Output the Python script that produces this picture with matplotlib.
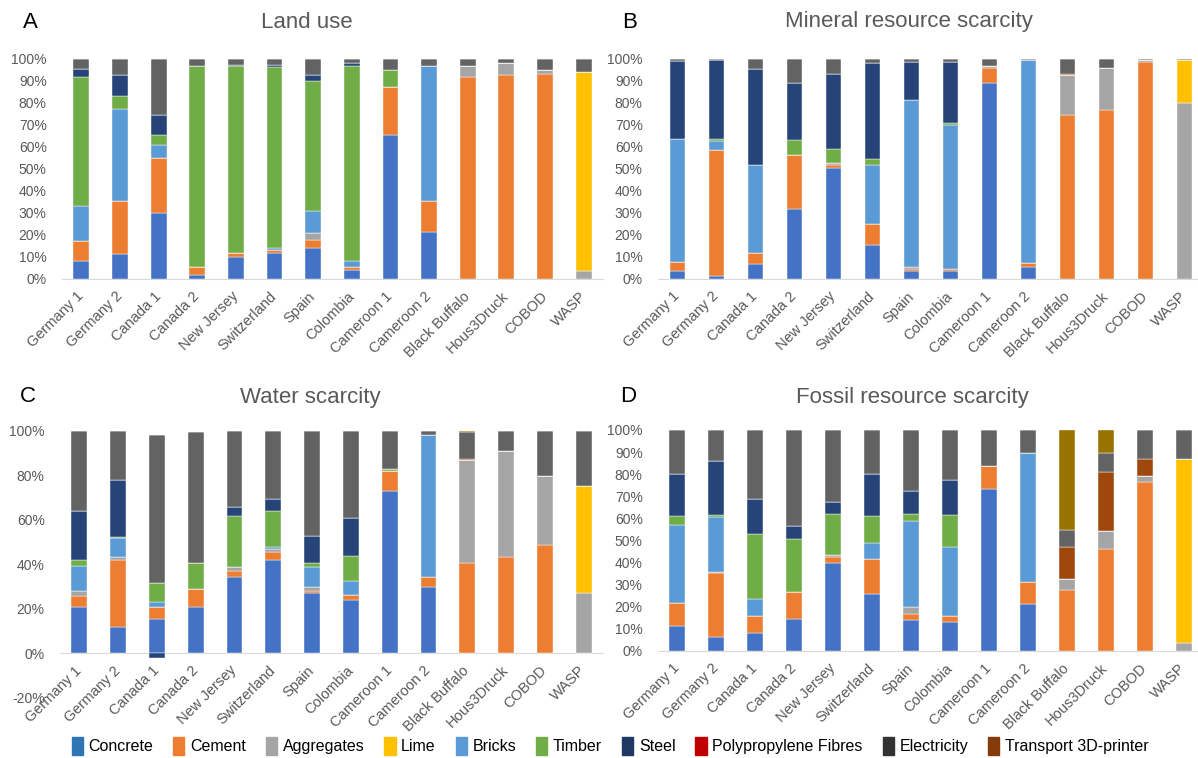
import numpy as np
import matplotlib
matplotlib.use("Agg")
import matplotlib.pyplot as plt
from matplotlib.patches import Patch

plt.rcParams['font.family'] = ['Liberation Sans', 'DejaVu Sans']

CASES = ['Germany 1', 'Germany 2', 'Canada 1', 'Canada 2', 'New Jersey', 'Switzerland',
         'Spain', 'Colombia', 'Cameroon 1', 'Cameroon 2', 'Black Buffalo', 'Hous3Druck',
         'COBOD', 'WASP']

MATERIALS = ['Concrete', 'Cement', 'Aggregates', 'Lime', 'Bricks', 'Timber', 'Steel',
             'Polypropylene Fibres', 'Electricity', 'Transport 3D-printer']

# bar fills (Excel default order) and the colours used in the shared legend
BAR_COLORS = ['#4472C4', '#ED7D31', '#A5A5A5', '#FFC000', '#5B9BD5', '#70AD47',
              '#264478', '#9E480E', '#636363', '#997300']
LEGEND_COLORS = ['#2E75B6', '#ED7D31', '#A5A5A5', '#FFC000', '#5B9BD5', '#70AD47',
                 '#1F3864', '#C00000', '#333333', '#843C0C']

# share of each material per case (%), one row per case, columns follow MATERIALS
land_use = np.array([
    [8.3, 8.8, 0, 0, 16.1, 58.8, 3.6, 0, 4.4, 0],
    [11.4, 24.1, 0, 0, 41.8, 5.9, 9.5, 0, 7.3, 0],
    [30.0, 25.0, 0, 0, 5.8, 4.8, 8.8, 0, 25.6, 0],
    [1.8, 3.5, 0, 0, 0, 91.5, 0, 0, 3.2, 0],
    [10.0, 1.8, 0, 0, 0, 85.0, 0.5, 0, 2.7, 0],
    [12.0, 1.2, 0, 0, 1.0, 82.0, 1.1, 0, 2.7, 0],
    [14.2, 3.5, 3.1, 0, 10.0, 59.4, 2.5, 0, 7.3, 0],
    [4.2, 1.3, 0, 0, 2.8, 88.5, 1.2, 0, 2.0, 0],
    [65.6, 21.8, 0, 0, 0, 7.6, 0, 0, 5.0, 0],
    [21.5, 14.0, 0, 0, 61.3, 0, 0, 0, 3.2, 0],
    [0, 91.7, 5.1, 0, 0, 0, 0, 0, 3.2, 0],
    [0, 92.7, 5.6, 0, 0, 0, 0, 0, 1.7, 0],
    [0, 93.2, 1.8, 0, 0, 0, 0, 0, 5.0, 0],
    [0, 0, 3.6, 90.6, 0, 0, 0, 0, 5.8, 0],
])

mineral = np.array([
    [3.8, 4.1, 0, 0, 55.9, 0, 35.3, 0, 0.9, 0],
    [1.4, 57.2, 0, 0, 4.3, 0.6, 36.2, 0, 0.3, 0],
    [6.7, 5.0, 0, 0, 40.3, 0, 43.6, 0, 4.4, 0],
    [32.0, 24.2, 0, 0, 0, 7.0, 26.0, 0, 10.8, 0],
    [50.3, 1.5, 0.9, 0, 0, 6.4, 34.2, 0, 6.7, 0],
    [15.5, 9.5, 0, 0, 27.0, 2.4, 43.6, 0, 2.0, 0],
    [3.8, 0.6, 1.1, 0, 76.0, 0, 17.1, 0, 1.4, 0],
    [3.8, 0.7, 0, 0, 65.3, 1.3, 27.5, 0, 1.4, 0],
    [89.2, 6.9, 0.7, 0, 0, 0, 0, 0, 3.2, 0],
    [5.6, 1.8, 0, 0, 92.1, 0, 0, 0, 0.5, 0],
    [0, 74.5, 18.1, 0, 0, 0, 0, 0.6, 6.6, 0.2],
    [0, 76.8, 19.0, 0, 0, 0, 0, 0, 4.2, 0],
    [0, 98.6, 0.9, 0, 0, 0, 0, 0, 0.5, 0],
    [0, 0, 79.8, 19.7, 0, 0, 0, 0, 0.5, 0],
])

water = np.array([
    [20.5, 5.2, 2.1, 0, 11.4, 2.7, 22.2, 0, 35.9, 0],
    [11.8, 30.1, 1.1, 0, 8.6, 0.5, 25.9, 0, 22.0, 0],
    [15.3, 5.6, 0, 0, 1.9, 8.6, -2.1, 0, 66.5, 0],
    [20.9, 7.8, 0, 0, 0, 12.0, 0, 0, 58.9, 0],
    [34.4, 2.3, 2.2, 0, 0, 22.8, 4.2, 0, 34.1, 0],
    [41.9, 3.6, 1.2, 0, 1.1, 16.3, 5.2, 0, 30.7, 0],
    [26.9, 1.1, 1.9, 0, 8.7, 2.1, 11.8, 0, 47.5, 0],
    [24.0, 1.9, 0, 0, 6.4, 11.4, 16.9, 0, 39.4, 0],
    [72.9, 9.1, 0, 0, 0, 0.6, 0, 0, 17.4, 0],
    [29.8, 4.2, 0, 0, 63.9, 0, 0.3, 0, 1.8, 0],
    [0, 40.7, 46.0, 0, 0, 0, 0, 0.4, 12.5, 0.4],
    [0, 43.3, 47.4, 0, 0, 0, 0, 0, 9.3, 0],
    [0, 48.5, 31.3, 0, 0, 0, 0, 0, 20.2, 0],
    [0, 0, 26.9, 48.2, 0, 0, 0, 0, 24.9, 0],
])

fossil = np.array([
    [11.2, 10.3, 0, 0, 35.4, 4.2, 19.1, 0, 19.8, 0],
    [6.4, 29.0, 0.5, 0, 24.6, 1.1, 24.3, 0, 14.1, 0],
    [8.2, 7.5, 0, 0, 7.7, 29.5, 15.9, 0, 31.2, 0],
    [14.7, 11.8, 0, 0, 0, 24.0, 5.9, 0, 43.6, 0],
    [39.9, 2.5, 1.2, 0, 0, 18.6, 5.4, 0, 32.4, 0],
    [25.9, 15.6, 0, 0, 7.2, 12.4, 19.1, 0, 19.8, 0],
    [14.2, 2.7, 3.1, 0, 38.8, 3.4, 10.3, 0, 27.5, 0],
    [13.0, 2.9, 0, 0, 31.1, 14.7, 15.5, 0, 22.8, 0],
    [73.5, 10.0, 0, 0, 0, 0, 0, 0, 16.5, 0],
    [21.3, 9.9, 0, 0, 58.4, 0, 0, 0, 10.4, 0],
    [0, 27.7, 4.7, 0, 0, 0, 0, 14.6, 7.8, 45.2],
    [0, 46.0, 8.2, 0, 0, 0, 0, 27.0, 8.4, 10.4],
    [0, 76.6, 2.8, 0, 0, 0, 0, 7.7, 12.9, 0],
    [0, 0, 3.6, 83.5, 0, 0, 0, 0, 12.9, 0],
])

TEXT_GREY = '#595959'
W, H = 1198, 758
fig = plt.figure(figsize=(W / 100, H / 100), dpi=100)


def px_axes(x0, x1, y_top, y_bot):
    return fig.add_axes([x0 / W, 1 - y_bot / H, (x1 - x0) / W, (y_bot - y_top) / H])


def stacked(ax, data, ylim, step):
    x = np.arange(len(CASES))
    pos = np.zeros(len(CASES))
    neg = np.zeros(len(CASES))
    for k, color in enumerate(BAR_COLORS):
        vals = data[:, k] / 100
        bottom = np.where(vals >= 0, pos, neg)
        ax.bar(x, vals, 0.41, bottom=bottom, color=color, edgecolor='white', linewidth=0.3)
        pos += np.clip(vals, 0, None)
        neg += np.clip(vals, None, 0)
    ax.set_xlim(-0.5, len(CASES) - 0.5)
    ax.set_ylim(*ylim)
    ax.set_yticks(np.arange(ylim[0], ylim[1] + 1e-9, step))
    ax.yaxis.set_major_formatter(plt.FuncFormatter(lambda v, _: f'{v * 100:.0f}%'))
    for side in ('top', 'right', 'left'):
        ax.spines[side].set_visible(False)
    # category axis sits on the zero line, labels included
    ax.spines['bottom'].set_position(('data', 0))
    ax.spines['bottom'].set_color('#D9D9D9')
    ax.spines['bottom'].set_zorder(0)
    ax.set_xticks(x)
    ax.set_xticklabels(CASES, rotation=45, ha='right', va='center', rotation_mode='anchor')
    ax.tick_params(length=0, colors=TEXT_GREY)
    ax.tick_params(axis='y', pad=11, labelsize=10)
    ax.tick_params(axis='x', pad=11, labelsize=10.5)


axA = px_axes(62, 603, 59, 279)
stacked(axA, land_use, (0, 1), 0.1)
axB = px_axes(658, 1204, 59, 279)
stacked(axB, mineral, (0, 1), 0.1)
axC = px_axes(60, 603, 430.7, 697.5)
stacked(axC, water, (-0.2, 1), 0.2)
axD = px_axes(658, 1203, 430, 651)
stacked(axD, fossil, (0, 1), 0.1)

titles = [('A', 'Land use', 30, 307, 22), ('B', 'Mineral resource scarcity', 630, 909, 22),
          ('C', 'Water scarcity', 28, 310, 397), ('D', 'Fossil resource scarcity', 628, 912, 397)]
for letter, title, lx, tx, ty in titles:
    fig.text(lx / W, 1 - ty / H, letter, fontsize=16, ha='center', va='center', color='black')
    fig.text(tx / W, 1 - ty / H, title, fontsize=16, ha='center', va='center', color=TEXT_GREY)

handles = [Patch(facecolor=c, edgecolor=c) for c in LEGEND_COLORS]
fig.legend(handles, MATERIALS, loc='center', bbox_to_anchor=(610 / W, 1 - 746 / H), ncol=10,
           frameon=False, fontsize=11.5, handlelength=0.7, handleheight=1.3,
           handletextpad=0.35, columnspacing=1.25, borderaxespad=0)

fig.savefig('out.png', dpi=100, facecolor='white')
